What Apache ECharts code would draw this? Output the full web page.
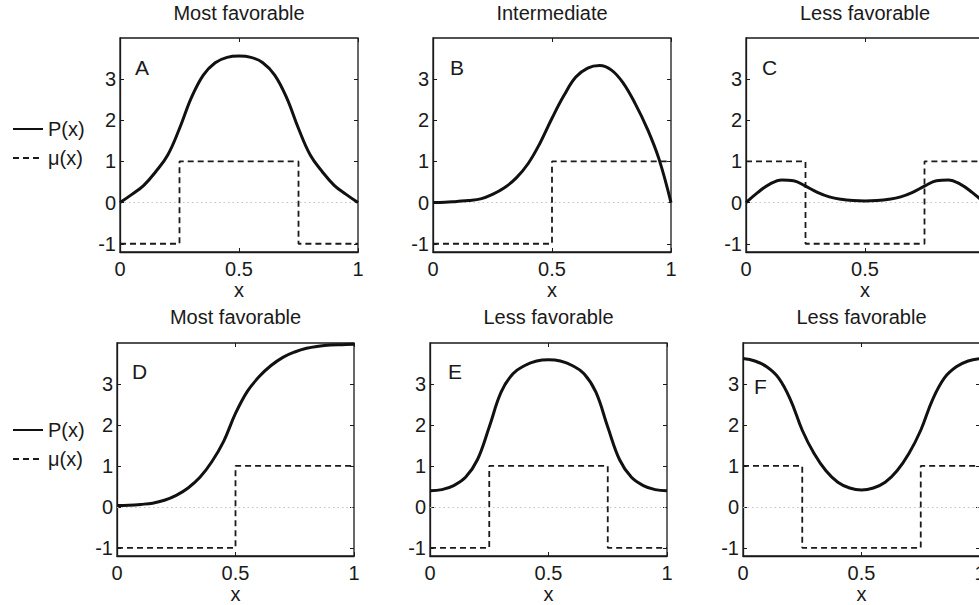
<!DOCTYPE html>
<html>
<head>
<meta charset="utf-8">
<script src="https://cdn.jsdelivr.net/npm/echarts@6/dist/echarts.min.js"></script>
<style>
html,body{margin:0;padding:0;background:#fff;overflow:hidden;}
#chart{width:979px;height:605px;}
</style>
</head>
<body>
<div id="chart"></div>
<script>
// ---- data ----
const xs = [0, 0.05, 0.1, 0.15, 0.2, 0.25, 0.3, 0.35, 0.4, 0.45, 0.5, 0.55, 0.6, 0.65, 0.7, 0.75, 0.8, 0.85, 0.9, 0.95, 1];
const pA = [0, 0.2, 0.42, 0.75, 1.15, 1.8, 2.55, 3.1, 3.4, 3.53, 3.56, 3.53, 3.4, 3.1, 2.55, 1.8, 1.15, 0.75, 0.42, 0.2, 0];
const pB = [0, 0.01, 0.03, 0.05, 0.09, 0.2, 0.36, 0.6, 0.95, 1.45, 2.05, 2.6, 3.05, 3.27, 3.33, 3.22, 2.9, 2.4, 1.8, 1.05, 0];
const pC = [0, 0.25, 0.45, 0.55, 0.53, 0.4, 0.25, 0.14, 0.08, 0.05, 0.04, 0.05, 0.08, 0.14, 0.25, 0.4, 0.53, 0.55, 0.45, 0.25, 0];
const pD = [0.03, 0.04, 0.06, 0.09, 0.16, 0.28, 0.46, 0.72, 1.1, 1.6, 2.28, 2.82, 3.18, 3.45, 3.65, 3.78, 3.87, 3.92, 3.95, 3.96, 3.97];
const pE = [0.39, 0.42, 0.52, 0.72, 1.15, 1.95, 2.8, 3.25, 3.45, 3.56, 3.59, 3.56, 3.45, 3.25, 2.8, 1.95, 1.15, 0.72, 0.52, 0.42, 0.39];
const pF = [3.62, 3.56, 3.42, 3.15, 2.62, 1.87, 1.3, 0.88, 0.6, 0.46, 0.41, 0.46, 0.6, 0.88, 1.3, 1.87, 2.62, 3.15, 3.42, 3.56, 3.62];

const muXA = [0, 0.25, 0.75, 1];   const muA = [-1, 1, -1, -1];
const muXB = [0, 0.5, 1];          const muB = [-1, 1, 1];
const muXC = [0, 0.25, 0.75, 1];   const muC = [1, -1, 1, 1];
const muXD = [0, 0.5, 1];          const muD = [-1, 1, 1];
const muXE = [0, 0.25, 0.75, 1];   const muE = [-1, 1, -1, -1];
const muXF = [0, 0.25, 0.75, 1];   const muF = [1, -1, 1, 1];

const panelTitles = ['Most favorable', 'Intermediate', 'Less favorable', 'Most favorable', 'Less favorable', 'Less favorable'];
const panelLetters = ['A', 'B', 'C', 'D', 'E', 'F'];
const yTicks = [-1, 0, 1, 2, 3];
const legendNames = ['P(x)', 'μ(x)'];

// ---- layout ----
const FONT = "'Liberation Sans', Arial, Helvetica, sans-serif";
const TXT = '#1a1a1a';
const panels = [
  {p: pA, muX: muXA, mu: muA, left: 120, top: 38, width: 238, height: 214, lx: 135, ly: 57},
  {p: pB, muX: muXB, mu: muB, left: 433, top: 38, width: 238, height: 214, lx: 450, ly: 57},
  {p: pC, muX: muXC, mu: muC, left: 746, top: 38, width: 238, height: 214, lx: 762, ly: 57},
  {p: pD, muX: muXD, mu: muD, left: 117, top: 343, width: 237, height: 213, lx: 132, ly: 361},
  {p: pE, muX: muXE, mu: muE, left: 430, top: 343, width: 237, height: 213, lx: 448, ly: 361},
  {p: pF, muX: muXF, mu: muF, left: 743, top: 343, width: 237, height: 213, lx: 754, ly: 376}
];

const grid = [], xAxis = [], yAxis = [], series = [], title = [];
panels.forEach((pn, i) => {
  grid.push({left: pn.left, top: pn.top, width: pn.width, height: pn.height,
    show: true, borderColor: '#1a1a1a', borderWidth: 1.3, backgroundColor: 'transparent',
    containLabel: false, outerBoundsMode: 'none'});
  const tick = {show: true, inside: true, length: 4, lineStyle: {color: '#1a1a1a', width: 1}};
  xAxis.push({type: 'value', gridIndex: i, min: 0, max: 1, interval: 0.5, position: 'bottom',
    axisLine: {show: true, onZero: false, lineStyle: {color: '#1a1a1a', width: 1.3}},
    axisTick: tick, splitLine: {show: false},
    axisLabel: {show: true, margin: 7, fontSize: 20, color: TXT, fontFamily: FONT,
      formatter: v => String(v)},
    name: 'x', nameLocation: 'middle', nameGap: i < 3 ? 25 : 26,
    nameTextStyle: {fontSize: 20, color: TXT, fontFamily: FONT}});
  xAxis.push({type: 'value', gridIndex: i, min: 0, max: 1, interval: 0.5, position: 'top',
    axisLine: {show: false, onZero: false}, axisTick: tick, splitLine: {show: false}, axisLabel: {show: false}});
  yAxis.push({type: 'value', gridIndex: i, min: -1.2, max: 4, position: 'left',
    axisLine: {show: true, onZero: false, lineStyle: {color: '#1a1a1a', width: 1.3}},
    axisTick: Object.assign({customValues: yTicks}, tick), splitLine: {show: false},
    axisLabel: {show: true, customValues: yTicks, margin: 4, fontSize: 20, color: TXT, fontFamily: FONT}});
  yAxis.push({type: 'value', gridIndex: i, min: -1.2, max: 4, position: 'right',
    axisLine: {show: false, onZero: false}, axisTick: Object.assign({customValues: yTicks}, tick),
    splitLine: {show: false}, axisLabel: {show: false}});

  series.push({type: 'line', name: legendNames[0], xAxisIndex: 2 * i, yAxisIndex: 2 * i,
    data: xs.map((x, j) => [x, pn.p[j]]), symbol: 'none', showSymbol: false,
    smooth: 0.4, z: 4, itemStyle: {color: '#111'},
    lineStyle: {color: '#111', width: 3}, silent: true,
    markLine: {silent: true, symbol: 'none', label: {show: false}, z: 1,
      lineStyle: {color: '#c4c4c4', type: [1.5, 3], width: 1.2},
      emphasis: {disabled: true},
      data: [{yAxis: 0}]}});
  series.push({type: 'line', name: legendNames[1], xAxisIndex: 2 * i, yAxisIndex: 2 * i,
    data: pn.muX.map((x, j) => [x, pn.mu[j]]), step: 'end', symbol: 'none', showSymbol: false, z: 3,
    itemStyle: {color: '#1a1a1a'},
    lineStyle: {color: '#1a1a1a', width: 1.8, type: [6, 4]}, silent: true});

  title.push({text: panelTitles[i], left: pn.left + pn.width / 2, top: i < 3 ? 3 : 307,
    textAlign: 'center', padding: 0,
    textStyle: {fontSize: 20, fontWeight: 'normal', color: TXT, fontFamily: FONT}});
  title.push({text: panelLetters[i], left: pn.lx, top: pn.ly, padding: 0,
    textStyle: {fontSize: 21, fontWeight: 'normal', color: TXT, fontFamily: FONT}});
});

const legendBase = {data: legendNames, orient: 'vertical', left: 12, itemWidth: 30, itemHeight: 14,
  itemGap: 9, padding: 0, selectedMode: false,
  itemStyle: {opacity: 0},
  textStyle: {fontSize: 20, color: TXT, fontFamily: FONT}};
const legend = [Object.assign({top: 119}, legendBase), Object.assign({top: 420}, legendBase)];

const chart = echarts.init(document.getElementById('chart'), null, {renderer: 'svg'});
chart.setOption({
  animation: false,
  backgroundColor: '#fff',
  textStyle: {fontFamily: FONT},
  title, legend, grid, xAxis, yAxis, series
});
</script>
</body>
</html>
